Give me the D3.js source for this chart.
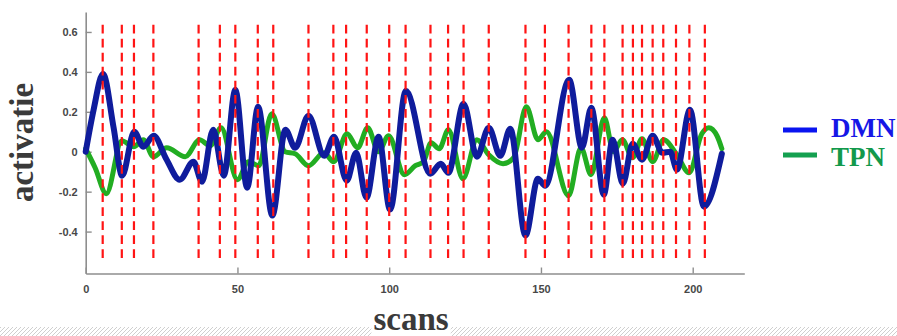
<!DOCTYPE html>
<html>
<head>
<meta charset="utf-8">
<script src="https://cdn.jsdelivr.net/npm/d3@7"></script>
<style>
    html, body { margin: 0; padding: 0; background: #fff; }
    svg { display: block; }
</style>
</head>
<body>
<div id="chart"></div>
<script>
'use strict';

// DMN (blue) curve
const dmnScan = [0, 2.6, 5.7, 9.2, 12, 16, 19, 22.4, 26.5, 31, 35.5, 38.3, 42, 45.5, 49.3, 53.2, 56.8, 61.5,
    65.8, 69, 73.4, 78.6, 81.8, 86, 89.1, 92.5, 96.5, 100.3, 105.5, 113.5, 117, 119.5, 124.5, 128.9, 132.8,
    136.6, 139.9, 144.9, 149, 151.4, 159.3, 163.5, 166.6, 170.7, 173.6, 177, 180.2, 183.3, 186.8, 190,
    192.6, 194.8, 199.1, 203.7, 209.6];
const dmnValue = [0, 0.21, 0.39, 0.12, -0.12, 0.1, 0.025, 0.08, -0.035, -0.14, -0.05, -0.15, 0.11, -0.12, 0.31, -0.18, 0.225, -0.32,
    0.11, 0.02, 0.18, -0.02, 0.075, -0.145, -0.005, -0.23, 0.075, -0.29, 0.305, -0.11, -0.06, -0.105, 0.24, -0.025, 0.12,
    -0.02, 0.115, -0.42, -0.135, -0.17, 0.36, 0.02, 0.22, -0.215, 0.06, -0.16, 0.04, -0.04, 0.08, -0.005,
    0.0, -0.09, 0.21, -0.275, -0.01];

// TPN (green) curve
const tpnScan = [0, 3.1, 6.8, 11.9, 15.8, 19, 22.3, 26.7, 32.8, 37.5, 41, 44.6, 50, 53.6, 57, 61.3, 65.7, 69,
    73.4, 78.5, 81.7, 86.1, 89.6, 92.9, 96.5, 99.8, 105, 108.6, 111.3, 113.8, 116.5, 119.5, 124.3, 128.9,
    132.8, 137.5, 141, 145.2, 149, 151.8, 159.1, 163.2, 166.5, 170.9, 173.9, 176.8, 180.2, 183.3, 186.8,
    190.4, 194.8, 198.8, 203, 205.3, 208, 209.6];
const tpnValue = [0.015, -0.08, -0.21, 0.055, 0.025, 0.06, -0.025, 0.02, -0.025, 0.06, 0.03, 0.12, -0.14, -0.05, -0.07, 0.19, 0.0, -0.01,
    -0.07, -0.005, -0.05, 0.09, 0.02, 0.12, 0.0, 0.08, -0.115, -0.07, -0.05, 0.045, 0.015, 0.11, -0.135, 0.06,
    -0.015, -0.06, -0.03, 0.225, 0.06, 0.1, -0.22, 0.02, -0.115, 0.17, 0.0, 0.06, -0.03, 0.065, -0.05,
    0.06, -0.015, -0.105, 0.09, 0.12, 0.08, 0.015];

// event onsets (red dashed lines)
const eventScans = [5.6, 11.9, 15.9, 22.3, 37.2, 44.2, 49.3, 56.7, 61.8, 73.4, 81.6, 85.8, 92.6, 100, 105.4,
    113.6, 119.4, 124.5, 132.8, 144.9, 151.3, 159.1, 166.6, 170.9, 176.9, 180.3, 183.3, 186.8, 190.3,
    194.5, 198.9, 204];

const xTicks = [0, 50, 100, 150, 200];
const yTicks = [-0.4, -0.2, 0, 0.2, 0.4, 0.6];
const seriesNames = ['DMN', 'TPN'];

const width = 897;
const height = 336;

const svg = d3.select('#chart').append('svg')
    .attr('width', width)
    .attr('height', height);

// hatched strip along the bottom
const defs = svg.append('defs');
const pattern = defs.append('pattern')
    .attr('id', 'hatch')
    .attr('patternUnits', 'userSpaceOnUse')
    .attr('width', 4)
    .attr('height', 4);
pattern.append('path')
    .attr('d', 'M-1,5 L5,-1 M-1,1 L1,-1 M3,5 L5,3')
    .attr('stroke', '#cfcfcf')
    .attr('stroke-width', 1);
svg.append('rect')
    .attr('x', 0).attr('y', 327)
    .attr('width', width).attr('height', height - 327)
    .attr('fill', 'url(#hatch)');

const x = d3.scaleLinear().domain([0, 217]).range([85.7, 744.3]);
const y = d3.scaleLinear().domain([-0.61, 0.70]).range([273.5, 12]);

// axes
const xAxis = svg.append('g')
    .attr('transform', `translate(0,${y(-0.61)})`)
    .call(d3.axisBottom(x).tickValues(xTicks).tickSizeInner(-6).tickSizeOuter(0).tickPadding(12));
const yAxis = svg.append('g')
    .attr('transform', `translate(${x(0)},0)`)
    .call(d3.axisLeft(y).tickValues(yTicks).tickSizeInner(-6).tickSizeOuter(0).tickPadding(8)
        .tickFormat(d => String(d)));

[xAxis, yAxis].forEach((ax) => {
    ax.select('.domain').attr('stroke', '#8e8e8e').attr('stroke-width', 1.6);
    ax.selectAll('.tick line').attr('stroke', '#8e8e8e').attr('stroke-width', 1.4);
    ax.selectAll('.tick text')
        .attr('fill', '#474747')
        .style('font-family', '"Liberation Sans", Arial, sans-serif')
        .style('font-weight', 'bold')
        .style('font-size', '11px');
});

// curves
const line = d3.line()
    .x(d => x(d[0]))
    .y(d => y(d[1]))
    .curve(d3.curveMonotoneX);

const tpnData = tpnScan.map((s, i) => [s, tpnValue[i]]);
const dmnData = dmnScan.map((s, i) => [s, dmnValue[i]]);

svg.append('path')
    .datum(tpnData)
    .attr('d', line)
    .attr('fill', 'none')
    .attr('stroke', '#22ad22')
    .attr('stroke-width', 5)
    .attr('stroke-linejoin', 'round')
    .attr('stroke-linecap', 'round');

svg.append('path')
    .datum(dmnData)
    .attr('d', line)
    .attr('fill', 'none')
    .attr('stroke', '#0f1c9c')
    .attr('stroke-width', 6)
    .attr('stroke-linejoin', 'round')
    .attr('stroke-linecap', 'round');

// event markers on top
svg.append('g').selectAll('line')
    .data(eventScans)
    .join('line')
    .attr('x1', d => x(d))
    .attr('x2', d => x(d))
    .attr('y1', 24.7)
    .attr('y2', 258.3)
    .attr('stroke', '#ff1414')
    .attr('stroke-width', 2.2)
    .attr('stroke-dasharray', '8.7,5.34');

// axis titles
const titleFont = '"Liberation Serif", "Times New Roman", serif';
svg.append('text')
    .attr('transform', 'translate(33,142.5) rotate(-90)')
    .attr('text-anchor', 'middle')
    .attr('fill', '#3a3a3a')
    .style('font-family', titleFont)
    .style('font-weight', 'bold')
    .style('font-size', '33px')
    .text('activatie');

const xTitle = svg.append('text')
    .attr('x', 411)
    .attr('y', 330)
    .attr('text-anchor', 'middle')
    .attr('fill', '#3a3a3a')
    .style('font-family', titleFont)
    .style('font-weight', 'bold')
    .style('font-size', '33px')
    .text('scans');
const bb = xTitle.node().getBBox();
svg.insert('rect', () => xTitle.node())
    .attr('x', bb.x - 2).attr('y', 326)
    .attr('width', bb.width + 4).attr('height', height - 326)
    .attr('fill', '#fff');

// legend
const legendColor = d3.scaleOrdinal().domain(seriesNames).range(['#0a14f0', '#14a050']);
const legendText = d3.scaleOrdinal().domain(seriesNames).range(['#1616e6', '#12994c']);
const legend = svg.append('g').selectAll('g')
    .data(seriesNames)
    .join('g')
    .attr('transform', (d, i) => `translate(783,${130 + i * 25})`);
legend.append('line')
    .attr('x1', 0).attr('x2', 34)
    .attr('stroke', d => legendColor(d))
    .attr('stroke-width', 5);
legend.append('text')
    .attr('x', 48)
    .attr('y', (d, i) => i === 0 ? 6.5 : 10.5)
    .attr('fill', d => legendText(d))
    .style('font-family', titleFont)
    .style('font-weight', 'bold')
    .style('font-size', '27px')
    .text(d => d);
</script>
</body>
</html>
